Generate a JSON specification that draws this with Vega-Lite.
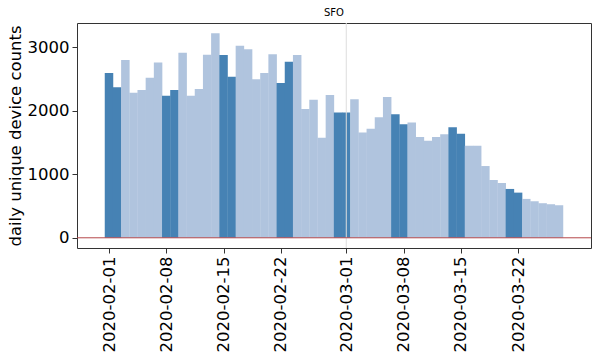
{
  "$schema": "https://vega.github.io/schema/vega-lite/v6.json",
  "width": 514,
  "height": 225,
  "autosize": "none",
  "padding": {"left": 77, "top": 23, "right": 9, "bottom": 112},
  "background": "white",
  "title": {"text": "SFO", "fontSize": 10, "font": "DejaVu Sans", "fontWeight": "normal", "color": "black", "offset": 5},
  "config": {
    "view": {"stroke": "#333", "strokeWidth": 1},
    "axis": {
      "labelFont": "DejaVu Sans",
      "titleFont": "DejaVu Sans",
      "labelFontSize": 16.5,
      "titleFontSize": 16.5,
      "titleFontWeight": "normal",
      "labelColor": "black",
      "titleColor": "black",
      "tickColor": "#333",
      "tickSize": 5,
      "labelPadding": 3,
      "domain": false,
      "grid": false
    }
  },
  "data": {
    "values": [
      {"date": "2020-02-01", "count": 2597},
      {"date": "2020-02-02", "count": 2372},
      {"date": "2020-02-03", "count": 2801},
      {"date": "2020-02-04", "count": 2288},
      {"date": "2020-02-05", "count": 2330},
      {"date": "2020-02-06", "count": 2524},
      {"date": "2020-02-07", "count": 2765},
      {"date": "2020-02-08", "count": 2241},
      {"date": "2020-02-09", "count": 2330},
      {"date": "2020-02-10", "count": 2916},
      {"date": "2020-02-11", "count": 2241},
      {"date": "2020-02-12", "count": 2346},
      {"date": "2020-02-13", "count": 2885},
      {"date": "2020-02-14", "count": 3225},
      {"date": "2020-02-15", "count": 2880},
      {"date": "2020-02-16", "count": 2539},
      {"date": "2020-02-17", "count": 3026},
      {"date": "2020-02-18", "count": 2974},
      {"date": "2020-02-19", "count": 2498},
      {"date": "2020-02-20", "count": 2597},
      {"date": "2020-02-21", "count": 2895},
      {"date": "2020-02-22", "count": 2440},
      {"date": "2020-02-23", "count": 2775},
      {"date": "2020-02-24", "count": 2880},
      {"date": "2020-02-25", "count": 2032},
      {"date": "2020-02-26", "count": 2178},
      {"date": "2020-02-27", "count": 1576},
      {"date": "2020-02-28", "count": 2251},
      {"date": "2020-02-29", "count": 1974},
      {"date": "2020-03-01", "count": 1974},
      {"date": "2020-03-02", "count": 2183},
      {"date": "2020-03-03", "count": 1660},
      {"date": "2020-03-04", "count": 1717},
      {"date": "2020-03-05", "count": 1901},
      {"date": "2020-03-06", "count": 2220},
      {"date": "2020-03-07", "count": 1948},
      {"date": "2020-03-08", "count": 1791},
      {"date": "2020-03-09", "count": 1817},
      {"date": "2020-03-10", "count": 1587},
      {"date": "2020-03-11", "count": 1529},
      {"date": "2020-03-12", "count": 1587},
      {"date": "2020-03-13", "count": 1634},
      {"date": "2020-03-14", "count": 1744},
      {"date": "2020-03-15", "count": 1639},
      {"date": "2020-03-16", "count": 1450},
      {"date": "2020-03-17", "count": 1450},
      {"date": "2020-03-18", "count": 1131},
      {"date": "2020-03-19", "count": 911},
      {"date": "2020-03-20", "count": 864},
      {"date": "2020-03-21", "count": 770},
      {"date": "2020-03-22", "count": 712},
      {"date": "2020-03-23", "count": 613},
      {"date": "2020-03-24", "count": 576},
      {"date": "2020-03-25", "count": 545},
      {"date": "2020-03-26", "count": 529},
      {"date": "2020-03-27", "count": 513}
    ]
  },
  "layer": [
    {
      "mark": {"type": "bar", "size": 8.5},
      "encoding": {
        "x": {
          "field": "date",
          "type": "temporal",
          "scale": {
            "type": "utc",
            "domain": [
              {"year": 2020, "month": 1, "date": 28, "hours": 16, "minutes": 48, "utc": true},
              {"year": 2020, "month": 3, "date": 30, "hours": 7, "minutes": 12, "utc": true}
            ]
          },
          "axis": {
            "title": null,
            "labelExpr": "utcFormat(datum.value, '%Y-%m-%d')",
            "labelAngle": 270,
            "values": [
              {"year": 2020, "month": 2, "date": 1, "utc": true},
              {"year": 2020, "month": 2, "date": 8, "utc": true},
              {"year": 2020, "month": 2, "date": 15, "utc": true},
              {"year": 2020, "month": 2, "date": 22, "utc": true},
              {"year": 2020, "month": 3, "date": 1, "utc": true},
              {"year": 2020, "month": 3, "date": 8, "utc": true},
              {"year": 2020, "month": 3, "date": 15, "utc": true},
              {"year": 2020, "month": 3, "date": 22, "utc": true}
            ]
          }
        },
        "y": {
          "field": "count",
          "type": "quantitative",
          "scale": {"domain": [-161, 3386], "nice": false, "zero": false},
          "axis": {"title": "daily unique device counts", "format": "d", "values": [0, 1000, 2000, 3000], "titlePadding": 4}
        },
        "color": {
          "condition": {"test": "utcday(toDate(datum.date)) == 0 || utcday(toDate(datum.date)) == 6", "value": "#4682b4"},
          "value": "#b0c4de"
        }
      }
    },
    {
      "data": {"values": [{}]},
      "mark": {"type": "rule", "color": "#dddddd", "strokeWidth": 1},
      "encoding": {
        "x": {"datum": {"year": 2020, "month": 3, "date": 1, "utc": true}, "type": "temporal"}
      }
    },
    {
      "data": {"values": [{}]},
      "mark": {"type": "rule", "color": "#b5484a", "strokeWidth": 1},
      "encoding": {
        "y": {"datum": 0, "type": "quantitative"}
      }
    }
  ]
}
